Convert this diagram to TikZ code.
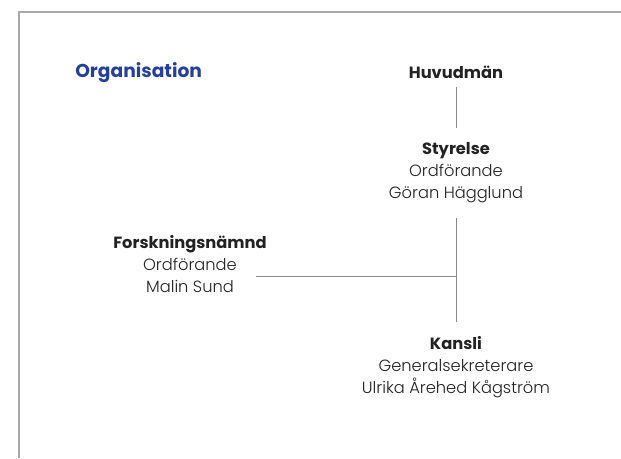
\documentclass[tikz,border=0pt]{standalone}
\usepackage{fontspec}
\setmainfont{Poppins}[UprightFont=* Light,BoldFont=* Bold]
\definecolor{orgblue}{HTML}{26409A}
\definecolor{frame}{HTML}{A8A8A8}
\definecolor{conn}{HTML}{8A8A8A}
\definecolor{txt}{HTML}{222222}
\begin{document}
\begin{tikzpicture}[x=0.75pt,y=-0.75pt,
  lbl/.style={inner sep=0pt,align=center,font=\fontsize{12.2}{16.5}\selectfont,text=txt},
  hd/.style={font=\fontsize{12.2}{16.5}\selectfont\bfseries,text=txt},
  link/.style={draw=conn,line width=0.6pt}]
\useasboundingbox (0,0) rectangle (621,458);
\draw[frame,line width=0.8pt] (19,458) -- (19,12) -- (621,12);
\node[inner sep=0pt,anchor=west,text=orgblue,font=\fontsize{14}{16}\selectfont\bfseries] (org) at (75,73) {Organisation};
\node[lbl,hd] (huv) at (456,72) {Huvudmän};
\node[lbl] (sty) at (456,173) {{\bfseries Styrelse}\\Ordförande\\Göran Hägglund};
\node[lbl] (fn) at (190,264) {{\bfseries Forskningsnämnd}\\Ordförande\\Malin Sund};
\node[lbl] (kan) at (456,367) {{\bfseries Kansli}\\Generalsekreterare\\Ulrika Årehed Kågström};
\coordinate (j) at (456,276);
\coordinate (h1) at (456,87);
\coordinate (h2) at (456,128);
\coordinate (s1) at (456,218);
\coordinate (k1) at (456,322);
\coordinate (f1) at (256,276);
\draw[link] (h1) -- (h2);
\draw[link] (s1) -- (k1);
\draw[link] (f1) -- (j);
\end{tikzpicture}
\end{document}
